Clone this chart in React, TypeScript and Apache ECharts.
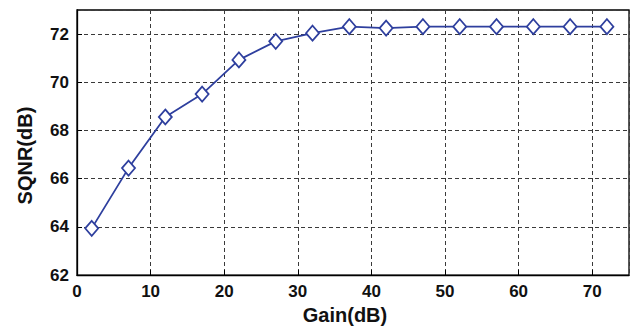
import React, { useEffect, useRef } from "react";
import * as echarts from "echarts";

const gainDb = [2, 7, 12, 17, 22, 27, 32, 37, 42, 47, 52, 57, 62, 67, 72];
const sqnrDb = [63.94, 66.44, 68.56, 69.51, 70.93, 71.7, 72.04, 72.31, 72.25, 72.31, 72.31, 72.31, 72.31, 72.31, 72.31];
const xTicks = [0, 10, 20, 30, 40, 50, 60, 70];
const yTicks = [62, 64, 66, 68, 70, 72];

export default function App() {
  const ref = useRef<HTMLDivElement>(null);
  useEffect(() => {
    document.body.style.margin = "0";
    const chart = echarts.init(ref.current!, null, { renderer: "svg" });
    const font = "'Liberation Sans', Arial, Helvetica, sans-serif";
    const gridLine = { show: true, lineStyle: { color: "#3a3a3a", type: [4, 3] as any, width: 1 } };
    chart.setOption({
      animation: false,
      backgroundColor: "#fff",
      grid: { left: 77, top: 10, right: 4, bottom: 53, show: true, borderColor: "#000", borderWidth: 1.3, backgroundColor: "transparent" },
      xAxis: {
        type: "value",
        min: 0,
        max: 75,
        interval: 10,
        name: "Gain(dB)",
        nameLocation: "middle",
        nameGap: 23,
        nameTextStyle: { fontFamily: font, fontWeight: "bold", fontSize: 20, color: "#111", padding: [0, 16, 0, 0] },
        axisLine: { show: true, lineStyle: { color: "#000", width: 1.3 } },
        axisTick: { show: true, inside: true, length: 5, lineStyle: { color: "#000" } },
        axisLabel: {
          fontFamily: font, fontWeight: "bold", fontSize: 17, color: "#111", margin: 8,
          formatter: (v: number) => (xTicks.includes(v) ? String(v) : ""),
          showMaxLabel: false,
        },
        splitLine: gridLine,
      },
      yAxis: {
        type: "value",
        min: 62,
        max: 73,
        interval: 2,
        name: "SQNR(dB)",
        nameLocation: "middle",
        nameGap: 42,
        nameRotate: 90,
        nameTextStyle: { fontFamily: font, fontWeight: "bold", fontSize: 20, color: "#111", padding: [0, 26, 0, 0] },
        axisLine: { show: true, lineStyle: { color: "#000", width: 1.3 } },
        axisTick: { show: true, inside: true, length: 5, lineStyle: { color: "#000" } },
        axisLabel: {
          fontFamily: font, fontWeight: "bold", fontSize: 17, color: "#111", margin: 8,
          formatter: (v: number) => (yTicks.includes(v) ? String(v) : ""),
          showMaxLabel: false,
        },
        splitLine: gridLine,
      },
      series: [
        {
          type: "line",
          data: gainDb.map((g, i) => [g, sqnrDb[i]]),
          symbol: "diamond",
          symbolSize: [13, 15],
          lineStyle: { color: "#2E3F9E", width: 1.8 },
          itemStyle: { color: "#fff", borderColor: "#2E3F9E", borderWidth: 1.8 },
        },
      ],
    });
    return () => chart.dispose();
  }, []);
  return <div ref={ref} style={{ width: 633, height: 330 }} />;
}
